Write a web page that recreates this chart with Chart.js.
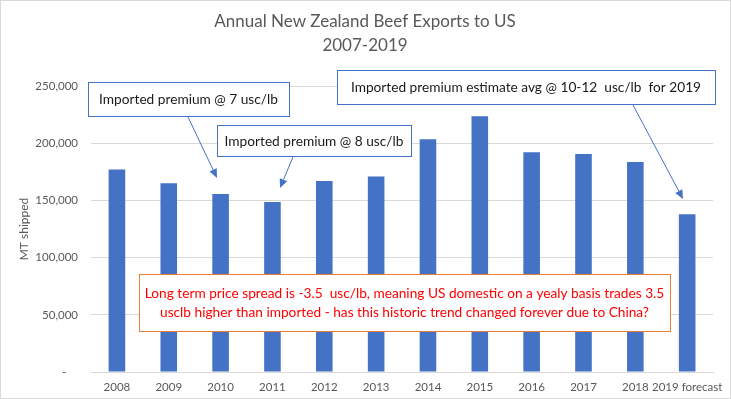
<!DOCTYPE html>
<html>
<head>
<meta charset="utf-8">
<script src="https://cdn.jsdelivr.net/npm/chart.js@4.4.0/dist/chart.umd.min.js"></script>
<style>
  html, body { margin: 0; padding: 0; background: #fff; }
  #wrap { width: 731px; height: 399px; position: relative; }
</style>
</head>
<body>
<div id="wrap"><canvas id="beefChart" width="731" height="399"></canvas></div>
<script>
// data
const years = ["2008", "2009", "2010", "2011", "2012", "2013", "2014", "2015", "2016", "2017", "2018", "2019 forecast"];
const mtShipped = [177000, 165000, 155500, 148500, 167000, 171000, 203500, 223500, 192000, 190500, 183500, 138000];
const yTicks = [0, 50000, 100000, 150000, 200000, 250000];

const titleLines = ["Annual New Zealand Beef Exports to US", "2007-2019"];
const yTitle = "MT shipped";

// text boxes + arrows (pixel layout on the 731x399 canvas)
const notes = [
  { text: ["Imported premium @ 7 usc/lb"], box: [88, 82, 201, 34], border: "#4472C4", color: "#1a1a1a",
    arrow: [188, 117, 217, 178] },
  { text: ["Imported premium @ 8 usc/lb"], box: [217, 125, 194, 31], border: "#4472C4", color: "#1a1a1a",
    arrow: [293, 157, 280, 188] },
  { text: ["Imported premium estimate avg @ 10-12  usc/lb  for 2019"], box: [337, 70, 378, 34], border: "#4472C4", color: "#1a1a1a",
    arrow: [633, 105, 683, 199] },
  { text: ["Long term price spread is -3.5  usc/lb, meaning US domestic on a yealy basis trades 3.5",
           "usclb higher than imported - has this historic trend changed forever due to China?"],
    box: [139, 274, 531, 57], border: "#ED7D31", color: "#FF0000", arrow: null }
];

const FONT = "Lato, 'Open Sans', sans-serif";

function drawArrow(ctx, x1, y1, x2, y2) {
  const ang = Math.atan2(y2 - y1, x2 - x1);
  const head = 9, wing = 4;
  const bx = x2 - head * Math.cos(ang), by = y2 - head * Math.sin(ang);
  ctx.strokeStyle = "#4472C4";
  ctx.fillStyle = "#4472C4";
  ctx.lineWidth = 1;
  ctx.beginPath();
  ctx.moveTo(x1, y1);
  ctx.lineTo(bx, by);
  ctx.stroke();
  ctx.beginPath();
  ctx.moveTo(x2, y2);
  ctx.lineTo(bx + wing * Math.sin(ang), by - wing * Math.cos(ang));
  ctx.lineTo(bx - wing * Math.sin(ang), by + wing * Math.cos(ang));
  ctx.closePath();
  ctx.fill();
}

const extras = {
  id: "extras",
  afterDraw(chart) {
    const ctx = chart.ctx;
    ctx.save();
    // outer frame
    ctx.strokeStyle = "#d9d9d9";
    ctx.lineWidth = 1;
    ctx.strokeRect(0.5, 0.5, 730, 398);

    // title
    ctx.fillStyle = "#595959";
    ctx.font = "17px " + FONT;
    ctx.textAlign = "center";
    ctx.textBaseline = "middle";
    ctx.fillText(titleLines[0], 365, 22);
    ctx.fillText(titleLines[1], 365, 46);

    // y axis title
    ctx.save();
    ctx.translate(24, 229);
    ctx.rotate(-Math.PI / 2);
    ctx.font = "12px " + FONT;
    ctx.fillText(yTitle, 0, 0);
    ctx.restore();

    // notes
    notes.forEach(n => {
      const [x, y, w, h] = n.box;
      ctx.fillStyle = "#fff";
      ctx.fillRect(x, y, w, h);
      ctx.strokeStyle = n.border;
      ctx.lineWidth = 1;
      ctx.strokeRect(x + 0.5, y + 0.5, w, h);
      ctx.fillStyle = n.color;
      ctx.font = "13.7px " + FONT;
      const lh = 19;
      const top = y + h / 2 - (n.text.length - 1) * lh / 2 + 1;
      n.text.forEach((t, i) => ctx.fillText(t, x + w / 2, top + i * lh));
      if (n.arrow) drawArrow(ctx, ...n.arrow);
    });
    ctx.restore();
  }
};

new Chart(document.getElementById("beefChart").getContext("2d"), {
  type: "bar",
  data: {
    labels: years,
    datasets: [{
      label: "MT shipped",
      data: mtShipped,
      backgroundColor: "#4472C4",
      categoryPercentage: 1,
      barPercentage: 0.32
    }]
  },
  options: {
    responsive: false,
    animation: false,
    layout: { padding: { top: 86, right: 16, left: 0, bottom: 0 } },
    plugins: {
      legend: { display: false },
      title: { display: false },
      tooltip: { enabled: false }
    },
    scales: {
      x: {
        grid: { display: false, drawTicks: false },
        border: { color: "#d9d9d9" },
        ticks: { color: "#595959", font: { family: FONT, size: 11.5 }, padding: 8, maxRotation: 0, minRotation: 0, autoSkip: false },
        afterFit: s => { s.height = 27; }
      },
      y: {
        min: 0,
        max: 250000,
        afterBuildTicks: s => { s.ticks = yTicks.map(v => ({ value: v })); },
        grid: { color: "#d9d9d9", drawTicks: false },
        border: { display: false },
        ticks: {
          color: "#595959",
          font: { family: FONT, size: 11.5 },
          padding: 13,
          callback: v => v === 0 ? "-    " : v.toLocaleString("en-US")
        },
        afterFit: s => { s.width = 91; }
      }
    }
  },
  plugins: [extras]
});
</script>
</body>
</html>
